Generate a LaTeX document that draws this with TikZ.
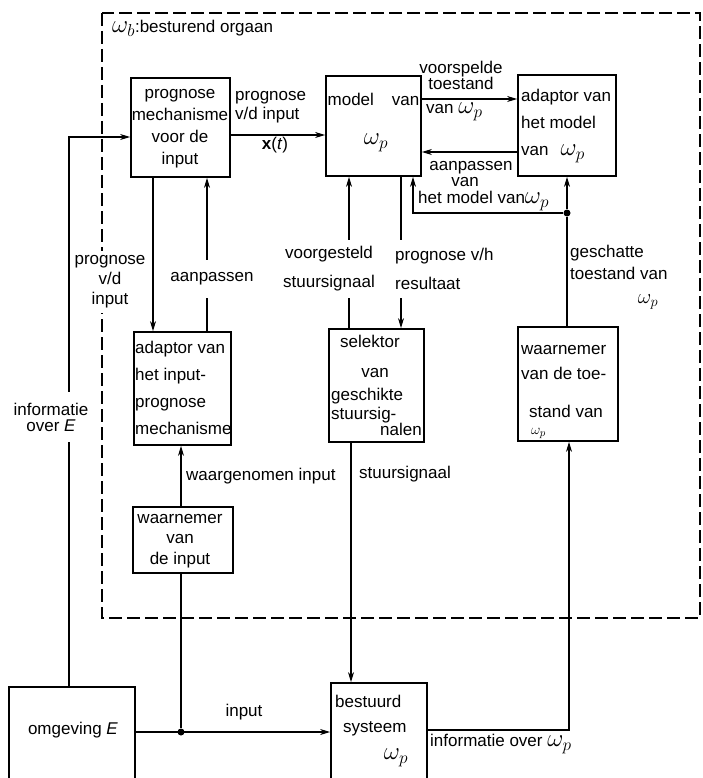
\documentclass[tikz,border=0pt]{standalone}
\usepackage{fontspec}
\setmainfont{Liberation Sans}
\usetikzlibrary{arrows.meta}
\newcommand{\omp}{{\fontsize{24}{24}\selectfont$\omega_p$}}
\newcommand{\omb}{{\fontsize{23}{23}\selectfont$\omega_b$}}
\tikzset{
  box/.style={draw, line width=1.8pt, inner sep=0pt},
  conn/.style={line width=1.1pt},
  arr/.style={conn, -{Stealth[length=10pt,width=6pt]}},
  txt/.style={font=\fontsize{17}{20}\selectfont, inner sep=0pt},
  lab/.style={txt, fill=white},
  dot/.style={circle, fill, inner sep=0pt, minimum size=7pt},
  border/.style={line width=2.2pt, dash pattern=on 13pt off 5pt},
}
\begin{document}
\begin{tikzpicture}[x=1pt, y=-1pt]
\useasboundingbox (0,0) rectangle (703,778);
\clip (0,0) rectangle (703,778);
% dashed border of the controlling organ
\draw[border] (102,13) rectangle (700,618);
% boxes
\node[box, minimum width=99pt, minimum height=99pt] (A) at (180.5,127.5) {};
\node[box, minimum width=95pt, minimum height=100pt] (B) at (373.5,126) {};
\node[box, minimum width=98pt, minimum height=101pt] (C) at (567,125.5) {};
\node[box, minimum width=97pt, minimum height=113pt] (D) at (182.5,388.5) {};
\node[box, minimum width=95pt, minimum height=113pt] (S) at (376.5,385.5) {};
\node[box, minimum width=100pt, minimum height=114pt] (W) at (568,384) {};
\node[box, minimum width=100pt, minimum height=66pt] (I) at (183,540) {};
\node[box, minimum width=126pt, minimum height=113pt] (E) at (72,743.5) {};
\node[box, minimum width=96pt, minimum height=117pt] (Bst) at (379,741.5) {};
% connectors
\coordinate (e1) at (69,137);
\draw[arr] (E.north -| e1) -- (e1) -- (A.west |- e1);
\draw[arr] (A.east |- 0,135) -- (B.west |- 0,135);
\draw[arr] (B.east |- 0,99) -- (C.west |- 0,99);
\draw[arr] (C.west |- 0,152) -- (B.east |- 0,152);
\node[dot] (j1) at (567,213) {};
\coordinate (bk) at (413,213);
\draw[arr] (j1) -- (bk) -- (B.south -| bk);
\draw[conn] (W.north -| j1) -- (j1);
\draw[arr] (j1) -- (C.south -| j1);
\draw[arr] (S.north -| 349,0) -- (B.south -| 349,0);
\draw[arr] (B.south -| 401,0) -- (S.north -| 401,0);
\draw[arr] (A.south -| 153,0) -- (D.north -| 153,0);
\draw[arr] (D.north -| 207,0) -- (A.south -| 207,0);
\draw[arr] (I.north -| 181,0) -- (D.south -| 181,0);
\node[dot] (j2) at (181,732) {};
\draw[conn] (I.south -| j2) -- (j2);
\draw[arr] (E.east |- j2) -- (Bst.west |- j2);
\draw[arr] (S.south -| 351,0) -- (Bst.north -| 351,0);
\coordinate (w1) at (569,730);
\draw[arr] (Bst.east |- w1) -- (w1) -- (W.south -| w1);
% title
\node[txt, anchor=mid west] (t0) at (112,30) {\omb:besturend orgaan};
% texts in boxes
\node[txt, align=center, font=\fontsize{17}{22}\selectfont] (ta) at (180,129) {prognose\\mechanisme\\voor de\\input};
\node[txt, anchor=mid] (tb1) at (373.5,103) {model\hspace{18pt}van};
\node[inner sep=0pt, font=\fontsize{25}{25}\selectfont] (tb2) at (376,143) {$\omega_p$};
\node[txt, align=left, anchor=west, font=\fontsize{17}{27}\selectfont] (tc) at (521,126) {adaptor van\\het model\\van\hspace{12pt}\omp};
\node[txt, align=left, anchor=west, font=\fontsize{17}{27}\selectfont] (td) at (135,388) {adaptor van\\het input-\\prognose\\mechanisme};
\node[txt, anchor=mid] (ts1) at (370,345) {selektor};
\node[txt, anchor=mid] (ts2) at (375,375) {van};
\node[txt, anchor=mid west] (ts3) at (331,398) {geschikte};
\node[txt, anchor=mid west] (ts4) at (331,417) {stuursig-};
\node[txt, anchor=mid] (ts5) at (401,433) {nalen};
\node[txt, anchor=mid west] (tw1) at (521,352) {waarnemer};
\node[txt, anchor=mid west] (tw2) at (521,377) {van de toe-};
\node[txt, anchor=mid west] (tw3) at (529,415) {stand van};
\node[inner sep=0pt, anchor=mid west, font=\fontsize{15}{15}\selectfont] (tw4) at (531,432) {$\omega_p$};
\node[txt, align=center, font=\fontsize{17}{20.5}\selectfont] (ti) at (180,541) {waarnemer\\van\\de input};
\node[txt, anchor=mid] (te) at (73,732) {omgeving \textit{E}};
\node[txt, anchor=mid west] (tbs1) at (335,705) {bestuurd};
\node[txt, anchor=mid west] (tbs2) at (343,730) {systeem};
\node[inner sep=0pt, anchor=mid, font=\fontsize{25}{25}\selectfont] (tbs3) at (396,757) {$\omega_p$};
% connector labels
\node[txt, align=left, anchor=west, font=\fontsize{17}{19}\selectfont] (lab1) at (235,107.5) {prognose\\v/d input};
\node[txt, anchor=mid] (lab2) at (275,147) {\textbf{x}(\textit{t})};
\node[txt, align=center, font=\fontsize{17}{16}\selectfont] (lab3) at (461,75) {voorspelde\\toestand};
\node[txt, anchor=mid west] (lab4) at (426,111) {van \omp};
\node[txt, anchor=mid] (lab5) at (471,168) {aanpassen};
\node[txt, anchor=mid] (lab6) at (465,184) {van};
\node[txt, anchor=mid west] (lab7) at (418,201) {het model van\omp};
\node[lab, align=center, font=\fontsize{17}{20}\selectfont, minimum height=62pt] (lab8) at (110,282) {prognose\\v/d\\input};
\node[lab, minimum height=38pt] (lab9) at (212,279) {aanpassen};
\node[lab, align=center, font=\fontsize{17}{29}\selectfont, minimum height=58pt] (lab10) at (329,269) {voorgesteld\\stuursignaal};
\node[lab, align=left, anchor=west, font=\fontsize{17}{29}\selectfont, minimum height=58pt] (lab11) at (395,269) {prognose v/h\\resultaat};
\node[txt, align=left, anchor=west, font=\fontsize{17}{22}\selectfont] (lab12) at (570,262) {geschatte\\toestand van};
\node[inner sep=0pt, anchor=mid, font=\fontsize{22}{22}\selectfont] (lab13) at (648,301) {$\omega_p$};
\node[lab, align=center, font=\fontsize{17}{16}\selectfont, minimum height=50pt] (lab14) at (51,417) {informatie\\over \textit{E}};
\node[txt, anchor=mid west] (lab15) at (186,478) {waargenomen input};
\node[txt, anchor=mid west] (lab16) at (359,476) {stuursignaal};
\node[txt, anchor=mid] (lab17) at (244,714) {input};
\node[txt, anchor=mid west] (lab18) at (430,744) {informatie over \omp};
\end{tikzpicture}
\end{document}
